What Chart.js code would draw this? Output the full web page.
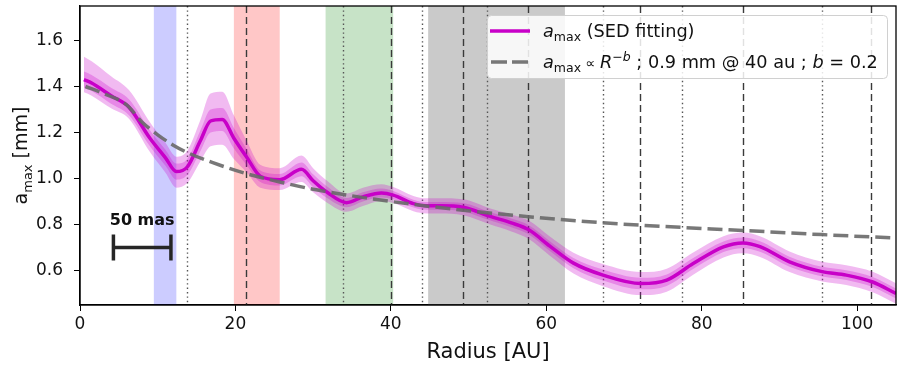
<!DOCTYPE html>
<html>
<head>
<meta charset="utf-8">
<script src="https://cdn.jsdelivr.net/npm/chart.js@4.4.0/dist/chart.umd.min.js"></script>
<style>
  html, body { margin: 0; padding: 0; background: #fff; }
  canvas { display: block; }
</style>
</head>
<body>
<canvas id="myChart" width="897" height="366"></canvas>
<script>
// radius grid [AU] and a_max [mm]
var radius = [0.5, 1.5, 4, 6.3, 9, 11, 12.4, 13.8, 15.5, 16.8, 18.3, 19.8, 21.5, 23.2, 25.7,
              28.5, 30, 31.8, 34.3, 36.4, 38.8, 40.3, 42.9, 44.6, 46.3, 49.3, 52.8, 55.5, 57.7,
              60.5, 63.5, 67.3, 72.2, 75.5, 78.9, 82.8, 85.3, 87.5, 91.3, 95.5, 98.6, 102, 105];
var amax = [1.43, 1.415, 1.36, 1.31, 1.175, 1.09, 1.03, 1.05, 1.165, 1.25, 1.257, 1.175, 1.09, 1.01, 0.995,
            1.04, 0.99, 0.94, 0.895, 0.92, 0.937, 0.928, 0.891, 0.881, 0.881, 0.875, 0.835, 0.807, 0.778,
            0.705, 0.632, 0.58, 0.543, 0.558, 0.63, 0.703, 0.72, 0.704, 0.638, 0.595, 0.58, 0.55, 0.50];
// uncertainty (outer = upper / lower, inner symmetric)
var errOutUp = [0.10, 0.095, 0.085, 0.075, 0.07, 0.065, 0.065, 0.07, 0.09, 0.12, 0.12, 0.10, 0.07, 0.05, 0.05,
                0.06, 0.055, 0.05, 0.04, 0.04, 0.038, 0.035, 0.033, 0.033, 0.033, 0.035, 0.035, 0.037, 0.04,
                0.042, 0.045, 0.048, 0.05, 0.05, 0.048, 0.046, 0.045, 0.045, 0.045, 0.043, 0.043, 0.045, 0.045];
var errOutDn = [0.055, 0.055, 0.055, 0.05, 0.06, 0.065, 0.07, 0.07, 0.09, 0.11, 0.11, 0.09, 0.065, 0.05, 0.045,
                0.055, 0.05, 0.045, 0.04, 0.04, 0.035, 0.035, 0.033, 0.033, 0.033, 0.035, 0.035, 0.037, 0.04,
                0.042, 0.045, 0.048, 0.05, 0.05, 0.048, 0.046, 0.045, 0.045, 0.045, 0.043, 0.043, 0.045, 0.045];
var errIn = [0.035, 0.035, 0.035, 0.035, 0.035, 0.035, 0.035, 0.035, 0.045, 0.05, 0.05, 0.045, 0.035, 0.025, 0.025,
             0.03, 0.028, 0.025, 0.02, 0.02, 0.02, 0.018, 0.017, 0.017, 0.017, 0.018, 0.018, 0.019, 0.02,
             0.021, 0.022, 0.024, 0.025, 0.025, 0.024, 0.023, 0.023, 0.023, 0.022, 0.021, 0.021, 0.022, 0.022];

// power-law model (dashed)
var modelR = [0.7, 3, 6, 8, 10, 12, 14, 17, 21.5, 25.7, 30, 33.8, 40, 49.3, 57.7, 65, 72.2, 85.3, 95.5, 105];
var modelA = [1.40, 1.37, 1.32, 1.245, 1.19, 1.145, 1.11, 1.07, 1.02, 0.985, 0.953, 0.931, 0.90, 0.862, 0.834,
              0.813, 0.797, 0.774, 0.756, 0.741];

// shaded ring regions [from, to] and vertical markers [AU]
var bandLimits = [[9.5, 12.4], [19.8, 25.7], [31.6, 40.3], [44.8, 62.4]];
var bandColors = ['rgba(0,0,255,0.2)', 'rgba(255,0,0,0.22)', 'rgba(0,128,0,0.22)', 'rgba(128,128,128,0.42)'];
var dashedLines = [21.4, 40.0, 49.3, 57.7, 72.1, 85.3, 101.8];
var dottedLines = [13.8, 33.8, 44.0, 52.4, 67.3, 77.4, 95.5];

// 50 mas scale bar
var scaleBarR = [4.3, 11.7];
var scaleBarA = 0.7;

var xTicks = [0, 20, 40, 60, 80, 100];
var yTicks = [0.6, 0.8, 1.0, 1.2, 1.4, 1.6];

var FONT = "'DejaVu Sans', sans-serif";
var MAG = '#c800c8';
var MODEL = 'rgba(105,105,105,0.9)';

function pts(xs, ys) { return xs.map(function(x, i) { return {x: x, y: ys[i]}; }); }
function shifted(sign, err) { return radius.map(function(r, i) { return {x: r, y: amax[i] + sign * err[i]}; }); }

function drawRuns(ctx, runs, x, y) {
  runs.forEach(function(s) {
    ctx.font = s.f;
    ctx.fillText(s.t, x, y + (s.dy || 0));
    x += ctx.measureText(s.t).width;
  });
  return x;
}
function runsWidth(ctx, runs) {
  var w = 0;
  runs.forEach(function(s) { ctx.font = s.f; w += ctx.measureText(s.t).width; });
  return w;
}
function noPadding(s) {
  s.paddingLeft = s.paddingRight = s.paddingTop = s.paddingBottom = 0;
}

var extras = {
  id: 'extras',
  beforeDatasetsDraw: function(chart) {
    var ctx = chart.ctx, a = chart.chartArea, xs = chart.scales.x;
    ctx.save();
    ctx.beginPath();
    ctx.rect(a.left, a.top, a.right - a.left, a.bottom - a.top);
    ctx.clip();
    bandLimits.forEach(function(b, i) {
      var x0 = xs.getPixelForValue(b[0]), x1 = xs.getPixelForValue(b[1]);
      ctx.fillStyle = bandColors[i];
      ctx.fillRect(x0, a.top, x1 - x0, a.bottom - a.top);
    });
    ctx.lineWidth = 1.4;
    ctx.strokeStyle = '#555';
    ctx.setLineDash([1.4, 3]);
    dottedLines.forEach(function(r) {
      var x = Math.round(xs.getPixelForValue(r)) + 0.5;
      ctx.beginPath(); ctx.moveTo(x, a.top); ctx.lineTo(x, a.bottom); ctx.stroke();
    });
    ctx.strokeStyle = '#3a3a3a';
    ctx.setLineDash([7, 4]);
    dashedLines.forEach(function(r) {
      var x = Math.round(xs.getPixelForValue(r)) + 0.5;
      ctx.beginPath(); ctx.moveTo(x, a.top); ctx.lineTo(x, a.bottom); ctx.stroke();
    });
    ctx.restore();
  },
  afterDraw: function(chart) {
    var ctx = chart.ctx, a = chart.chartArea, xs = chart.scales.x, ys = chart.scales.y;
    ctx.save();
    // frame
    ctx.strokeStyle = '#000';
    ctx.lineWidth = 1.3;
    ctx.strokeRect(a.left, a.top, a.right - a.left, a.bottom - a.top);

    // scale bar label
    ctx.fillStyle = '#111';
    ctx.font = 'bold 16px ' + FONT;
    ctx.textAlign = 'center';
    ctx.textBaseline = 'alphabetic';
    ctx.fillText('50 mas', xs.getPixelForValue((scaleBarR[0] + scaleBarR[1]) / 2), ys.getPixelForValue(scaleBarA) - 23);

    // y axis title
    ctx.textAlign = 'left';
    var yRuns = [
      {t: 'a', f: '19px ' + FONT},
      {t: 'max', f: '13px ' + FONT, dy: 5},
      {t: ' [mm]', f: '19px ' + FONT}
    ];
    var w = runsWidth(ctx, yRuns);
    ctx.translate(27, (a.top + a.bottom) / 2);
    ctx.rotate(-Math.PI / 2);
    ctx.fillStyle = '#111';
    drawRuns(ctx, yRuns, -w / 2, 0);
    ctx.setTransform(1, 0, 0, 1, 0, 0);

    // legend
    var lx = 487, ly = 15, lw = 400, lh = 63;
    ctx.fillStyle = 'rgba(255,255,255,0.85)';
    ctx.strokeStyle = '#d0d0d0';
    ctx.lineWidth = 1;
    ctx.beginPath();
    ctx.roundRect(lx + 0.5, ly + 0.5, lw, lh, 4);
    ctx.fill();
    ctx.stroke();

    ctx.lineWidth = 3.5;
    ctx.strokeStyle = MAG;
    ctx.beginPath(); ctx.moveTo(490, 31); ctx.lineTo(530, 31); ctx.stroke();
    ctx.strokeStyle = MODEL;
    ctx.setLineDash([16, 5]);
    ctx.beginPath(); ctx.moveTo(491, 62); ctx.lineTo(530, 62); ctx.stroke();
    ctx.setLineDash([]);

    ctx.fillStyle = '#111';
    var it = 'italic 17.7px ' + FONT, rm = '17.7px ' + FONT, sm = '12.5px ' + FONT, smi = 'italic 12.5px ' + FONT;
    drawRuns(ctx, [
      {t: 'a', f: it},
      {t: 'max', f: sm, dy: 4},
      {t: ' (SED fitting)', f: rm}
    ], 543, 37);
    drawRuns(ctx, [
      {t: 'a', f: it},
      {t: 'max', f: sm, dy: 4},
      {t: ' \u221D ', f: '14px ' + FONT},
      {t: 'R', f: it},
      {t: '\u2212', f: sm, dy: -7},
      {t: 'b', f: smi, dy: -7},
      {t: ' ; 0.9 mm @ 40 au ; ', f: rm},
      {t: 'b', f: it},
      {t: ' = 0.2', f: rm}
    ], 543, 68);
    ctx.restore();
  }
};

var ctx = document.getElementById('myChart').getContext('2d');
var myChart = new Chart(ctx, {
  type: 'line',
  data: {
    datasets: [{
        data: shifted(1, errOutUp),
        borderWidth: 0, pointRadius: 0,
        backgroundColor: 'rgba(204,0,204,0.27)',
        fill: '+1', order: 5, cubicInterpolationMode: 'monotone'
      }, {
        data: shifted(-1, errOutDn),
        borderWidth: 0, pointRadius: 0, fill: false, order: 5, cubicInterpolationMode: 'monotone'
      }, {
        data: shifted(1, errIn),
        borderWidth: 0, pointRadius: 0,
        backgroundColor: 'rgba(204,0,204,0.27)',
        fill: '+1', order: 4, cubicInterpolationMode: 'monotone'
      }, {
        data: shifted(-1, errIn),
        borderWidth: 0, pointRadius: 0, fill: false, order: 4, cubicInterpolationMode: 'monotone'
      }, {
        label: 'a_max (SED fitting)',
        data: pts(radius, amax),
        borderColor: MAG, borderWidth: 3.5, pointRadius: 0,
        fill: false, order: 2, cubicInterpolationMode: 'monotone'
      }, {
        label: 'a_max \u221D R^-b ; 0.9 mm @ 40 au ; b = 0.2',
        data: pts(modelR, modelA),
        borderColor: MODEL, borderWidth: 3.5, borderDash: [15, 6], pointRadius: 0,
        fill: false, order: 1, cubicInterpolationMode: 'monotone'
      }, {
        label: '50 mas',
        data: pts(scaleBarR, [scaleBarA, scaleBarA]),
        borderColor: '#262626', borderWidth: 3.5,
        pointStyle: 'line', rotation: 90, pointRadius: 13,
        pointBorderColor: '#262626', pointBorderWidth: 3.5,
        fill: false, order: 0
      }
    ]
  },
  options: {
    responsive: false,
    devicePixelRatio: 1,
    animation: false,
    events: [],
    layout: { autoPadding: false, padding: { left: 0, right: 1, top: 6, bottom: 0 } },
    plugins: {
      legend: { display: false },
      tooltip: { enabled: false }
    },
    scales: {
      x: {
        type: 'linear', min: 0, max: 105,
        afterFit: function(s) { s.height = 61; noPadding(s); },
        afterBuildTicks: function(s) { s.ticks = xTicks.map(function(v) { return {value: v}; }); },
        grid: { drawOnChartArea: false, drawTicks: true, tickLength: 6, color: '#000' },
        border: { display: true, color: '#000', width: 1.3 },
        ticks: { color: '#111', font: { family: FONT, size: 17 }, padding: 3, maxRotation: 0,
                 callback: function(v) { return String(v); } },
        title: { display: true, text: 'Radius [AU]', color: '#111', font: { family: FONT, size: 21 },
                 padding: { top: 0, bottom: 1 } }
      },
      y: {
        min: 0.45, max: 1.75,
        afterFit: function(s) { s.width = 80; noPadding(s); },
        afterBuildTicks: function(s) { s.ticks = yTicks.map(function(v) { return {value: v}; }); },
        grid: { drawOnChartArea: false, drawTicks: true, tickLength: 6, color: '#000' },
        border: { display: true, color: '#000', width: 1.3 },
        ticks: { color: '#111', font: { family: FONT, size: 17 }, padding: 11,
                 callback: function(v) { return v.toFixed(1); } }
      }
    }
  },
  plugins: [extras]
});
</script>
</body>
</html>
